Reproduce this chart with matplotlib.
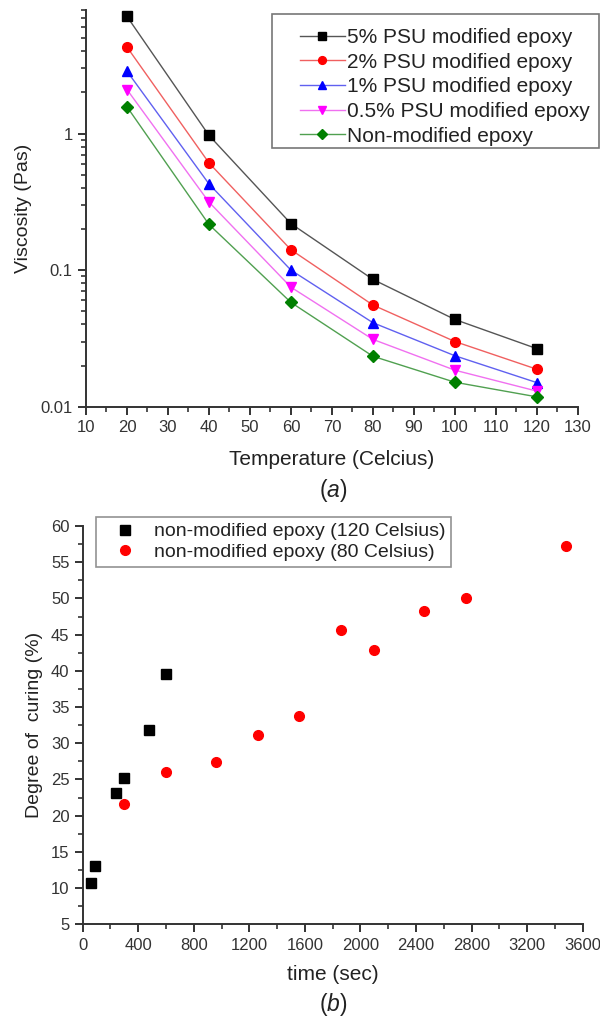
import matplotlib
matplotlib.use("Agg")
import matplotlib.pyplot as plt
from matplotlib.patches import Rectangle
from matplotlib.ticker import LogLocator, MultipleLocator, NullFormatter, FixedFormatter, FixedLocator

plt.rcParams['font.family'] = ['Liberation Sans', 'DejaVu Sans']
plt.rcParams['mathtext.fontset'] = 'custom'
plt.rcParams['mathtext.rm'] = 'Liberation Sans'
plt.rcParams['mathtext.it'] = 'Liberation Sans:italic'
plt.rcParams['text.color'] = '#222222'
plt.rcParams['axes.labelcolor'] = '#222222'
plt.rcParams['xtick.color'] = '#333333'
plt.rcParams['ytick.color'] = '#333333'

# (a) viscosity vs temperature
temps = [20, 40, 60, 80, 100, 120]
visc_5 = [7.2, 0.97, 0.219, 0.0855, 0.0435, 0.0266]
visc_2 = [4.3, 0.61, 0.141, 0.0555, 0.030, 0.0188]
visc_1 = [2.86, 0.428, 0.100, 0.0412, 0.0236, 0.0150]
visc_05 = [2.10, 0.315, 0.075, 0.0311, 0.0185, 0.0130]
visc_0 = [1.57, 0.216, 0.058, 0.0234, 0.0151, 0.0118]
labels_a = ['5% PSU modified epoxy', '2% PSU modified epoxy', '1% PSU modified epoxy',
            '0.5% PSU modified epoxy', 'Non-modified epoxy']

# (b) degree of curing vs time
t_120 = [60, 90, 240, 300, 480, 600]
cure_120 = [10.7, 13.1, 23.1, 25.2, 31.9, 39.6]
t_80 = [300, 600, 960, 1260, 1560, 1860, 2100, 2460, 2760, 3480]
cure_80 = [21.6, 26.1, 27.4, 31.1, 33.8, 45.6, 42.9, 48.2, 50.1, 57.2]
labels_b = ['non-modified epoxy (120 Celsius)', 'non-modified epoxy (80 Celsius)']

W, H = 600, 1021
fig = plt.figure(figsize=(6, 10.21), dpi=100)

def style_axes(ax):
    for s in ['top', 'right']:
        ax.spines[s].set_visible(False)
    for s in ['left', 'bottom']:
        ax.spines[s].set_linewidth(1.4)
        ax.spines[s].set_color('#333333')
    ax.tick_params(which='major', direction='out', length=6, width=1.4, labelsize=12)
    ax.tick_params(which='minor', direction='out', length=3.5, width=1.2)

# ---- top chart
ax1 = fig.add_axes([0.1433, 0.6017, 0.8197, 0.3883])
series = [visc_5, visc_2, visc_1, visc_05, visc_0]
mcol = ['black', 'red', 'blue', 'magenta', '#008000']
lcol = ['#555555', '#f06060', '#6060f0', '#f070f0', '#50a050']
marks = ['s', 'o', '^', 'v', 'D']
msz = [6.5, 7, 7, 7, 6]
for v, mc, lc, mk, ms, lb in zip(series, mcol, lcol, marks, msz, labels_a):
    ax1.plot(temps, v, color=lc, lw=1.0, marker=mk, markersize=ms,
             markerfacecolor=mc, markeredgecolor=mc, label=lb)
ax1.set_yscale('log')
ax1.set_ylim(0.01, 8)
ax1.set_xlim(10, 130)
ax1.xaxis.set_major_locator(MultipleLocator(10))
ax1.xaxis.set_minor_locator(MultipleLocator(5))
ax1.yaxis.set_major_locator(FixedLocator([0.01, 0.1, 1]))
ax1.yaxis.set_major_formatter(FixedFormatter(['0.01', '0.1', '1']))
ax1.yaxis.set_minor_locator(LogLocator(base=10, subs=[2, 3, 4, 5, 6, 7, 8, 9]))
ax1.yaxis.set_minor_formatter(NullFormatter())
style_axes(ax1)
ax1.set_xlabel('Temperature (Celcius)', fontsize=15, labelpad=11)
ax1.set_ylabel('Viscosity (Pas)', fontsize=14, labelpad=6)

# legend frame drawn separately (wide left margin in the original)
fig.patches.append(Rectangle((272 / W, 1 - 147.7 / H), (599 - 272) / W, (147.7 - 14.3) / H,
                             transform=fig.transFigure, fill=True, facecolor='white',
                             edgecolor='#777777', linewidth=1.2, zorder=5))
h1, l1 = ax1.get_legend_handles_labels()
leg1 = fig.legend(h1, l1, loc='upper left', bbox_to_anchor=(300 / W, 1 - 28 / H),
                  bbox_transform=fig.transFigure, borderaxespad=0, borderpad=0,
                  fontsize=15, frameon=False, handlelength=2.15, handletextpad=0.12,
                  labelspacing=0.27, markerscale=0.8)
leg1.set_zorder(6)
fig.text(333 / W, 1 - 490 / H, r'($\mathit{a}$)', fontsize=16.5, ha='center', va='center')

# ---- bottom chart
ax2 = fig.add_axes([0.1378, 0.0947, 0.8333, 0.3901])
ax2.plot(t_120, cure_120, linestyle='none', marker='s', markersize=6.5, color='black', label=labels_b[0])
ax2.plot(t_80, cure_80, linestyle='none', marker='o', markersize=7, color='red', label=labels_b[1])
ax2.set_xlim(0, 3600)
ax2.set_ylim(5, 60)
ax2.xaxis.set_major_locator(MultipleLocator(400))
ax2.xaxis.set_minor_locator(MultipleLocator(200))
ax2.yaxis.set_major_locator(MultipleLocator(5))
ax2.yaxis.set_minor_locator(MultipleLocator(2.5))
style_axes(ax2)
ax2.set_xlabel('time (sec)', fontsize=15, labelpad=9)
ax2.set_ylabel('Degree of  curing (%)', fontsize=14, labelpad=6)
leg2 = ax2.legend(loc='upper left', bbox_to_anchor=(95.7 / W, 1 - 517 / H),
                  bbox_transform=fig.transFigure, borderaxespad=0, fontsize=14,
                  frameon=True, fancybox=False, handlelength=2.4, handletextpad=0.3,
                  labelspacing=0.15, borderpad=0.3)
leg2.get_frame().set_edgecolor('#777777')
leg2.get_frame().set_linewidth(1.2)
fig.text(333 / W, 1 - 1004 / H, r'($\mathit{b}$)', fontsize=16.5, ha='center', va='center')

fig.savefig('out.png', dpi=100)
